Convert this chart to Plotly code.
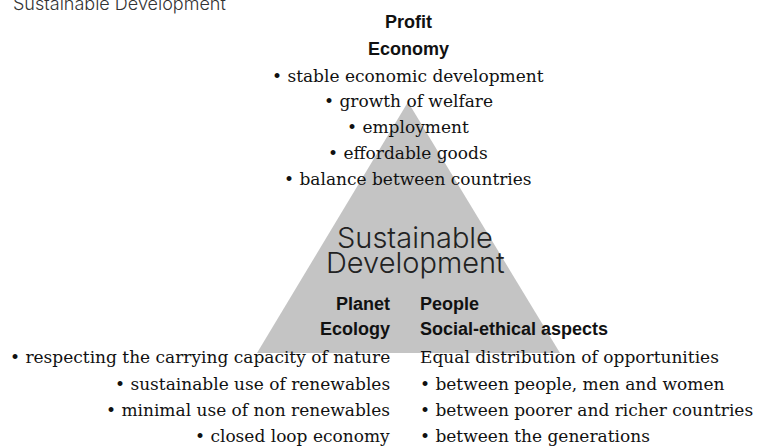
import plotly.graph_objects as go

# ---- data -------------------------------------------------------------
title_text = "Sustainable Development"
center_lines = ["Sustainable", "Development"]

economy_heads = ["Profit", "Economy"]
economy_items = [
    "• stable economic development",
    "• growth of welfare",
    "• employment",
    "• effordable goods",
    "• balance between countries",
]

ecology_heads = ["Planet", "Ecology"]
ecology_items = [
    "• respecting the carrying capacity of nature",
    "• sustainable use of renewables",
    "• minimal use of non renewables",
    "• closed loop economy",
]

social_heads = ["People", "Social-ethical aspects"]
social_items = [
    "Equal distribution of opportunities",
    "• between people, men and women",
    "• between poorer and richer countries",
    "• between the generations",
]

# triangle corners (apex, base left, base right) in canvas units
triangle_x = [408, 257, 560, 408]
triangle_y = [102, 353, 353, 102]

# ---- styling / layout constants ----------------------------------------
W, H = 760, 446
SERIF = "DejaVu Serif"
SANS_BOLD = "Liberation Sans"
LIGHT = "Inter"
TEXT = "#111111"
GREY = "#c4c4c4"

fig = go.Figure()
fig.add_trace(go.Scatter(
    x=triangle_x, y=triangle_y, mode="lines", fill="toself",
    fillcolor=GREY, line=dict(width=0, color=GREY),
    hoverinfo="skip", showlegend=False,
))

ann = []

def add(text, x, y, xanchor, family, size, color=TEXT, weight=None):
    f = dict(family=family, size=size, color=color)
    if weight is not None:
        f["weight"] = weight
    ann.append(dict(text=text, x=x, y=y, xref="x", yref="y",
                    xanchor=xanchor, yanchor="middle", showarrow=False,
                    font=f))

# title (partly cut at the top edge, as in the reference)
ann.append(dict(text=title_text, x=11 / W, y=1,
                xref="paper", yref="paper", xanchor="left", yanchor="middle",
                yshift=-3, showarrow=False,
                font=dict(family=LIGHT, size=18, color="#333333", weight=300)))

# economy block (centred)
head_y = [21.7, 48.7]
for t, y in zip(economy_heads, head_y):
    add("<b>%s</b>" % t, 408, y, "center", SANS_BOLD, 18)
item_y = [76, 101, 127, 153, 179]
for t, y in zip(economy_items, item_y):
    add(t, 408, y, "center", SERIF, 17)

# centre label
for t, y in zip(center_lines, [237, 262]):
    add(t, 415, y, "center", LIGHT, 29, color="#222222", weight=300)

# ecology (right aligned) and social (left aligned)
low_head_y = [303.7, 328.7]
low_item_y = [357, 384, 410, 436]
for t, y in zip(ecology_heads, low_head_y):
    add("<b>%s</b>" % t, 392, y, "right", SANS_BOLD, 18)
for t, y in zip(ecology_items, low_item_y):
    add(t, 392, y, "right", SERIF, 17)
for t, y in zip(social_heads, low_head_y):
    add("<b>%s</b>" % t, 418, y, "left", SANS_BOLD, 18)
for t, y in zip(social_items, low_item_y):
    add(t, 418, y, "left", SERIF, 17)

fig.update_layout(
    width=W, height=H,
    margin=dict(l=0, r=0, t=0, b=0),
    paper_bgcolor="white", plot_bgcolor="white",
    xaxis=dict(range=[0, W], visible=False, fixedrange=True),
    yaxis=dict(range=[H, 0], visible=False, fixedrange=True),
    annotations=ann,
    showlegend=False,
)

fig.write_html("out.html", config={"displayModeBar": False},
               post_script="document.body.style.margin='0';")
